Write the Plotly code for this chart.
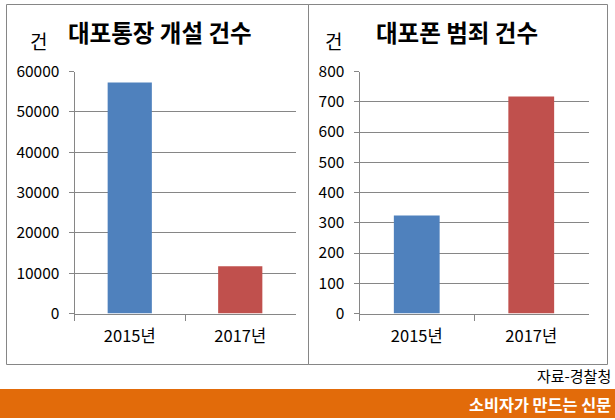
import plotly.graph_objects as go

# Values
years = ['2015년', '2017년']
account_counts = [57300, 11700]
crime_counts = [324, 717]
bar_colors = ['#4F81BD', '#C0504D']

account_ticks = [0, 10000, 20000, 30000, 40000, 50000, 60000]
crime_ticks = [0, 100, 200, 300, 400, 500, 600, 700, 800]

W = 615
H = 420
FONT = 'Noto Sans CJK KR'
LINE = '#868686'


def px(x):
    return x / W


def py(y):
    return 1 - y / H


def axis_text(text, x, y, size, color='#000000', bold=False, anchor='center'):
    return dict(text='<b>%s</b>' % text if bold else text, x=px(x), y=py(y), xref='paper', yref='paper',
                xanchor=anchor, yanchor='middle', showarrow=False,
                font=dict(family=FONT, size=size, color=color))


fig = go.Figure()
fig.add_trace(go.Bar(x=years, y=account_counts, marker=dict(color=bar_colors, line_width=0),
                     width=0.4, xaxis='x', yaxis='y', showlegend=False))
fig.add_trace(go.Bar(x=years, y=crime_counts, marker=dict(color=bar_colors, line_width=0),
                     width=0.4, xaxis='x2', yaxis='y2', showlegend=False))

x_style = dict(type='category', tickson='boundaries', ticks='outside', ticklen=6, tickcolor=LINE,
               showline=True, linecolor=LINE, linewidth=1, showgrid=False, automargin=False,
               ticklabelstandoff=8, tickfont=dict(family=FONT, size=16.5, color='#000000'))
y_style = dict(ticks='outside', ticklen=5, tickcolor=LINE, showline=True, linecolor=LINE, linewidth=1,
               showgrid=True, gridcolor=LINE, gridwidth=1, zeroline=False, automargin=False,
               tickformat='d', ticklabelstandoff=6, tickfont=dict(family=FONT, size=15.5, color='#000000'))

fig.update_layout(
    width=W, height=H, margin=dict(l=0, r=0, t=0, b=0),
    paper_bgcolor='white', plot_bgcolor='white', bargap=0.6,
    xaxis=dict(domain=[px(74.5), px(295.5)], anchor='y', **x_style),
    yaxis=dict(domain=[py(313.5), py(71.5)], anchor='x', range=[0, 60000], tickvals=account_ticks, **y_style),
    xaxis2=dict(domain=[px(359.5), px(588.5)], anchor='y2', **x_style),
    yaxis2=dict(domain=[py(313.5), py(71.5)], anchor='x2', range=[0, 800], tickvals=crime_ticks, **y_style),
    shapes=[
        dict(type='rect', xref='paper', yref='paper', x0=px(6.5), x1=px(308.5), y0=py(364.5), y1=py(4.5),
             line=dict(color=LINE, width=1), layer='below'),
        dict(type='rect', xref='paper', yref='paper', x0=px(308.5), x1=px(607.5), y0=py(364.5), y1=py(4.5),
             line=dict(color=LINE, width=1), layer='below'),
        dict(type='rect', xref='paper', yref='paper', x0=0, x1=1, y0=py(418), y1=py(389),
             fillcolor='#E26B0A', line_width=0, layer='below'),
    ],
    annotations=[
        axis_text('대포통장 개설 건수', 160, 32, 23.5, bold=True),
        axis_text('대포폰 범죄 건수', 457, 32, 23.5, bold=True),
        axis_text('건', 38, 41, 19),
        axis_text('건', 333, 41, 19),
        axis_text('자료-경찰청', 613, 375, 15, anchor='right'),
        axis_text('소비자가 만드는 신문', 613, 404, 16.3, color='#FFFFFF', bold=True, anchor='right'),
    ],
)

fig.write_html('out.html', config=dict(displayModeBar=False), post_script="document.body.style.margin='0';")
